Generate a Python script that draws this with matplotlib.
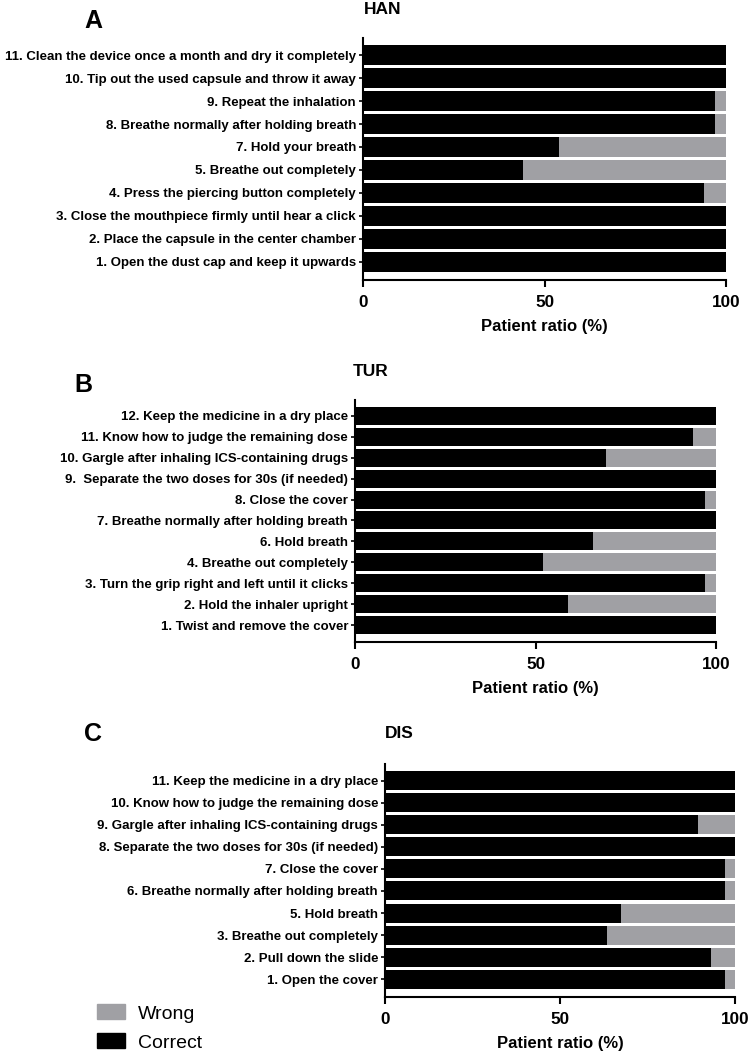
import matplotlib
matplotlib.use("Agg")
import matplotlib.pyplot as plt
from matplotlib.patches import Patch

plt.rcParams["font.family"] = ["Liberation Sans", "DejaVu Sans"]

# =========================
# DATA
# =========================

han_steps = [
    "1. Open the dust cap and keep it upwards",
    "2. Place the capsule in the center chamber",
    "3. Close the mouthpiece firmly until hear a click",
    "4. Press the piercing button completely",
    "5. Breathe out completely",
    "7. Hold your breath",
    "8. Breathe normally after holding breath",
    "9. Repeat the inhalation",
    "10. Tip out the used capsule and throw it away",
    "11. Clean the device once a month and dry it completely",
]
han_correct = [100, 100, 100, 94, 44, 54, 97, 97, 100, 100]

tur_steps = [
    "1. Twist and remove the cover",
    "2. Hold the inhaler upright",
    "3. Turn the grip right and left until it clicks",
    "4. Breathe out completely",
    "6. Hold breath",
    "7. Breathe normally after holding breath",
    "8. Close the cover",
    "9.  Separate the two doses for 30s (if needed)",
    "10. Gargle after inhaling ICS-containing drugs",
    "11. Know how to judge the remaining dose",
    "12. Keep the medicine in a dry place",
]
tur_correct = [100, 59, 97, 52, 66, 100, 97, 100, 69.5, 93.5, 100]

dis_steps = [
    "1. Open the cover",
    "2. Pull down the slide",
    "3. Breathe out completely",
    "5. Hold breath",
    "6. Breathe normally after holding breath",
    "7. Close the cover",
    "8. Separate the two doses for 30s (if needed)",
    "9. Gargle after inhaling ICS-containing drugs",
    "10. Know how to judge the remaining dose",
    "11. Keep the medicine in a dry place",
]
dis_correct = [97, 93, 63.5, 67.5, 97, 97, 100, 89.5, 100, 100]

xticks = [0, 50, 100]

CORRECT_COLOR = "black"
WRONG_COLOR = "#a0a0a4"

W, H = 750, 1056


def px_axes(fig, left, right, top, bottom):
    return fig.add_axes([left / W, 1 - bottom / H, (right - left) / W, (bottom - top) / H])


def plot_panel(ax, steps, correct):
    wrong = [100 - c for c in correct]
    y = list(range(len(steps)))
    ax.barh(y, correct, height=0.86, color=CORRECT_COLOR)
    ax.barh(y, wrong, left=correct, height=0.86, color=WRONG_COLOR)
    ax.set_xlim(0, 100)
    ax.set_ylim(-0.8, len(steps) - 0.25)
    ax.set_yticks(y)
    ax.set_yticklabels(steps, fontsize=9.5, fontweight="bold")
    ax.set_xticks(xticks)
    ax.set_xticklabels([str(t) for t in xticks], fontsize=12.3, fontweight="bold")
    ax.set_xlabel("Patient ratio (%)", fontsize=12, fontweight="bold", labelpad=6)
    for side in ["top", "right"]:
        ax.spines[side].set_visible(False)
    for side in ["left", "bottom"]:
        ax.spines[side].set_linewidth(1.5)
    ax.tick_params(axis="y", length=3, width=1.2, pad=2)
    ax.tick_params(axis="x", length=5, width=1.5, pad=6)


fig = plt.figure(figsize=(7.5, 10.56), dpi=100)

ax_a = px_axes(fig, 363, 726, 38, 280)
plot_panel(ax_a, han_steps, han_correct)
ax_b = px_axes(fig, 355, 716, 400, 642)
plot_panel(ax_b, tur_steps, tur_correct)
ax_c = px_axes(fig, 385, 735, 764, 997)
plot_panel(ax_c, dis_steps, dis_correct)

# panel letters and titles
for letter, title, lx, ly, tx, ty in [
    ("A", "HAN", 93, 21, 364, 10),
    ("B", "TUR", 83, 385, 353, 372),
    ("C", "DIS", 93, 734, 385, 734),
]:
    fig.text(lx / W, 1 - ly / H, letter, fontsize=18, fontweight="bold", ha="center", va="center")
    fig.text(tx / W, 1 - ty / H, title, fontsize=12.5, fontweight="bold", ha="left", va="center")

handles = [Patch(color=WRONG_COLOR, label="Wrong"), Patch(color=CORRECT_COLOR, label="Correct")]
fig.legend(handles=handles, loc="center left", bbox_to_anchor=(97 / W, 1 - 1028 / H),
           frameon=False, fontsize=14, handlelength=1.45, handleheight=0.82,
           labelspacing=0.55, handletextpad=0.65, borderpad=0, borderaxespad=0)

fig.savefig("out.png", dpi=100)
